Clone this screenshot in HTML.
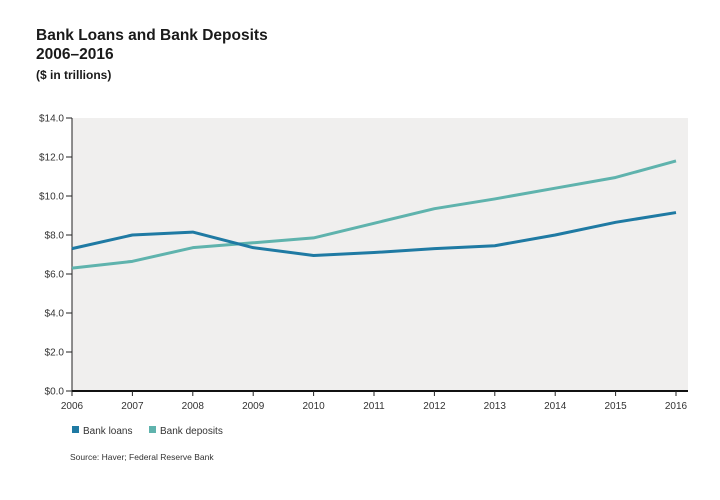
<!DOCTYPE html>
<html><head><meta charset="utf-8"><style>
body{margin:0;background:#fff;font-family:"Liberation Sans",sans-serif;}
</style></head><body>
<svg width="720" height="495" xmlns="http://www.w3.org/2000/svg">
<text x="36" y="40" font-size="15.5" font-weight="bold" fill="#1a1a1a">Bank Loans and Bank Deposits</text>
<text x="36" y="59" font-size="15.5" font-weight="bold" fill="#1a1a1a">2006–2016</text>
<text x="36" y="79" font-size="12" font-weight="bold" fill="#1a1a1a">($ in trillions)</text>
<rect x="72" y="118" width="616" height="273" fill="#f0efee"/>
<g id="axes"></g>
<g id="series"></g>
<rect x="72" y="426" width="7" height="7" fill="#1f7aa3"/>
<text x="83" y="434" font-size="10" fill="#333">Bank loans</text>
<rect x="149" y="426" width="7" height="7" fill="#5fb3ad"/>
<text x="160" y="434" font-size="10" fill="#333">Bank deposits</text>
<text x="70" y="460" font-size="8.5" fill="#333">Source: Haver; Federal Reserve Bank</text>
</svg>
<script>
const years = [2006,2007,2008,2009,2010,2011,2012,2013,2014,2015,2016];
const loans = [7.3,8.0,8.15,7.35,6.95,7.1,7.3,7.45,8.0,8.65,9.15];
const deposits = [6.3,6.65,7.35,7.6,7.85,8.6,9.35,9.85,10.4,10.95,11.8];
const yTicks = [0,2,4,6,8,10,12,14];
const yTickLabels = ["$0.0","$2.0","$4.0","$6.0","$8.0","$10.0","$12.0","$14.0"];

const NS="http://www.w3.org/2000/svg";
const X0=72,X1=676,Y0=391,Y1=118;
function xs(i){return X0+(X1-X0)*i/(years.length-1);}
function ys(v){return Y0-(Y0-Y1)*v/14;}
const axes=document.getElementById('axes');
function mk(tag,attrs,parent){const e=document.createElementNS(NS,tag);for(const k in attrs)e.setAttribute(k,attrs[k]);parent.appendChild(e);return e;}
let l=mk('line',{x1:X0,y1:Y1,x2:X0,y2:Y0,stroke:'#222','stroke-width':1},axes);


l=mk('line',{x1:X0,y1:Y0,x2:688,y2:Y0,stroke:'#111','stroke-width':2},axes);


yTicks.forEach((v,i)=>{
  const t=mk('line',{x1:X0-6,y1:ys(v),x2:X0,y2:ys(v),stroke:'#222','stroke-width':1},axes);
  
  
  const tx=mk('text',{x:X0-8,y:ys(v)+3.5,'font-size':10,'text-anchor':'end',fill:'#333'},axes);
  tx.textContent=yTickLabels[i];
  
  
});
years.forEach((yr,i)=>{
  const t=mk('line',{x1:xs(i),y1:Y0,x2:xs(i),y2:Y0+5,stroke:'#222','stroke-width':1},axes);
  
  
  const tx=mk('text',{x:xs(i),y:Y0+18,'font-size':10,'text-anchor':'middle',fill:'#333'},axes);
  tx.textContent=yr;
  
  
});
const sg=document.getElementById('series');
function draw(vals,color,name){
  const p=mk('polyline',{points:vals.map((v,i)=>xs(i)+','+ys(v)).join(' '),fill:'none',stroke:color,'stroke-width':3,'stroke-linejoin':'round'},sg);
  
  
}
draw(deposits,'#5fb3ad','bank-deposits-line');
draw(loans,'#1f7aa3','bank-loans-line');
</script>
</body></html>
